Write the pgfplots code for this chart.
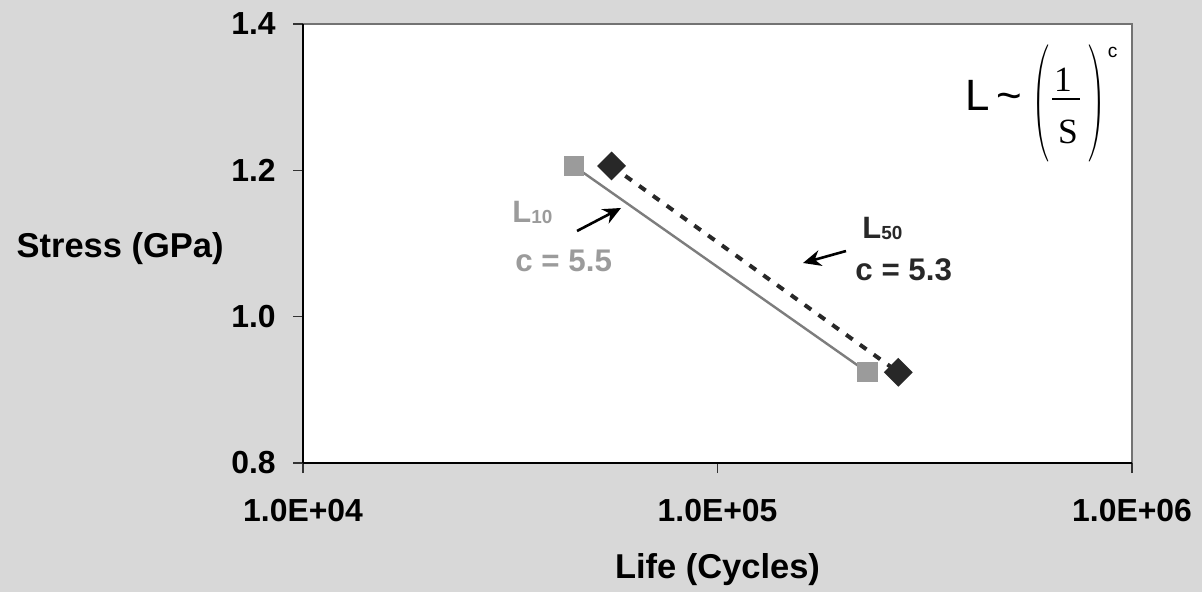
\documentclass[border=0pt]{standalone}
\usepackage{fontspec}
\setmainfont{Liberation Sans}
\newfontfamily\timesf{Liberation Serif}
\usepackage{pgfplots}
\pgfplotsset{compat=1.18}
\usetikzlibrary{arrows.meta}
\definecolor{bg}{RGB}{216,216,216}
\definecolor{ltgray}{RGB}{155,155,155}
\definecolor{lngray}{RGB}{125,125,125}
\definecolor{dkgray}{RGB}{40,40,40}
\begin{document}
\begin{tikzpicture}
\fill[bg] (0,0) rectangle (601bp,296bp);
\useasboundingbox (0,0) rectangle (601bp,296bp);
\begin{axis}[
  at={(151.5bp,64.5bp)}, anchor=south west,
  scale only axis, width=414.5bp, height=219.5bp,
  xmode=log, xmin=1e4, xmax=1e6, ymin=0.8, ymax=1.4,
  xtick={1e4,1e5,1e6}, xticklabels={1.0E+04,1.0E+05,1.0E+06},
  ytick={0.8,1.0,1.2,1.4}, yticklabels={0.8,1.0,1.2,1.4},
  xminorticks=false, yminorticks=false,
  axis x line*=bottom, axis y line*=left,
  axis line style={line width=1bp, black},
  axis background/.style={fill=white, draw=black!55, line width=1bp},
  tick align=outside, major tick length=5bp,
  tick style={line width=0.7bp, black!80},
  ticklabel style={font=\bfseries\fontsize{16}{18}\selectfont, inner sep=0pt},
  xticklabel style={anchor=base, yshift=-24.25bp},
  yticklabel style={anchor=east, xshift=-8.5bp},
  every axis x label/.style={at={(rel axis cs:0.5,-0.2642)}, anchor=base, inner sep=0pt, font=\bfseries\fontsize{17.3}{20}\selectfont},
  every axis y label/.style={at={(rel axis cs:-0.0953,0.4692)}, anchor=base east, inner sep=0pt, font=\bfseries\fontsize{17.3}{20}\selectfont},
  xlabel={Life (Cycles)}, ylabel={Stress (GPa)},
  clip=false,
]
\addplot[color=lngray, line width=1.2bp, mark=square*, mark size=4.5bp, mark options={fill=ltgray, draw=ltgray}]
  coordinates {(45000,1.206) (230000,0.924)};
\addplot[color=dkgray, line width=2bp, dash pattern=on 4bp off 4.5bp, mark=square*, mark size=4.1bp, mark options={solid, rotate=45, fill=dkgray, draw=dkgray}]
  coordinates {(55500,1.206) (273000,0.924)};
% annotations
\node[anchor=base west, inner sep=0pt, text=ltgray, font=\bfseries\fontsize{15.5}{18}\selectfont] at (rel axis cs:0.2521,0.5467) {L\raisebox{-0.5bp}{\fontsize{9.5}{10}\selectfont 10}};
\node[anchor=base west, inner sep=0pt, text=ltgray, font=\bfseries\fontsize{15.7}{18}\selectfont] at (rel axis cs:0.2557,0.4351) {c = 5.5};
\node[anchor=base west, inner sep=0pt, text=dkgray, font=\bfseries\fontsize{15.5}{18}\selectfont] at (rel axis cs:0.6743,0.5125) {L\raisebox{-0.5bp}{\fontsize{9.5}{10}\selectfont 50}};
\node[anchor=base west, inner sep=0pt, text=dkgray, font=\bfseries\fontsize{15.7}{18}\selectfont] at (rel axis cs:0.6659,0.4146) {c = 5.3};
\draw[line width=1.3bp, -{Stealth[length=9bp,width=8bp]}] (rel axis cs:0.3305,0.5285) -- (rel axis cs:0.3836,0.5809);
\draw[line width=1.3bp, -{Stealth[length=9bp,width=8bp]}] (rel axis cs:0.6550,0.4829) -- (rel axis cs:0.6031,0.4556);
% formula  L ~ (1/S)^c
\node[anchor=base west, inner sep=0pt, font=\fontsize{22}{24}\selectfont] at (rel axis cs:0.7986,0.8041) {L};
\node[anchor=base west, inner sep=0pt, font=\fontsize{22}{24}\selectfont] at (rel axis cs:0.8365,0.8041) {\textasciitilde};
\node[anchor=center, inner sep=0pt] at (rel axis cs:0.8902,0.8189) {\resizebox*{8.5bp}{58.5bp}{$\left(\vcenter to 28pt{}\right.\nulldelimiterspace=0pt$}};
\node[anchor=center, inner sep=0pt] at (rel axis cs:0.9572,0.8189) {\resizebox*{8.5bp}{58.5bp}{$\nulldelimiterspace=0pt\left.\vcenter to 28pt{}\right)$}};
\node[anchor=center, inner sep=0pt, font=\timesf\fontsize{17.8}{20}\selectfont] at (rel axis cs:0.9168,0.8724) {1};
\draw[line width=0.8bp] (rel axis cs:0.9035,0.8292) -- (rel axis cs:0.9373,0.8292);
\node[anchor=center, inner sep=0pt, font=\timesf\fontsize{17.8}{20}\selectfont] at (rel axis cs:0.9228,0.7551) {S};
\node[anchor=center, inner sep=0pt, font=\fontsize{9.6}{11}\selectfont] at (rel axis cs:0.9765,0.9362) {c};
\end{axis}
\end{tikzpicture}
\end{document}
